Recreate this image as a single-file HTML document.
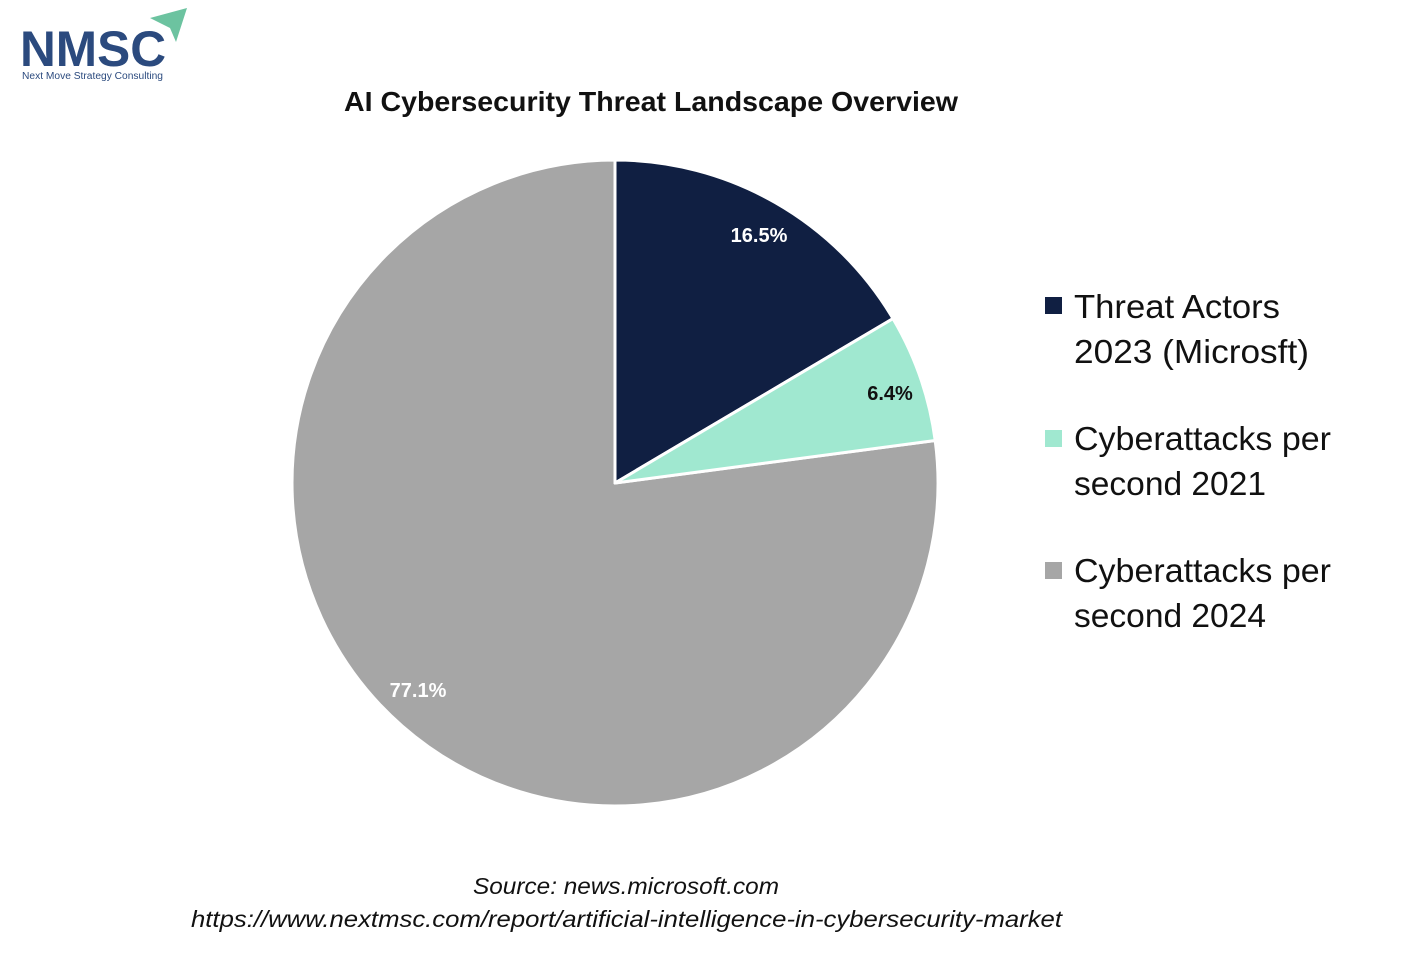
<!DOCTYPE html>
<html><head><meta charset="utf-8"><style>html,body{margin:0;padding:0;background:#fff;}svg{display:block}</style></head>
<body>
<svg width="1427" height="974" viewBox="0 0 1427 974" xmlns="http://www.w3.org/2000/svg" font-family="'Liberation Sans', sans-serif">
<rect width="1427" height="974" fill="#fff"/>
<!-- logo -->
<text x="20" y="66" font-size="50" font-weight="bold" fill="#2b4a7e" textLength="146" lengthAdjust="spacingAndGlyphs">NMSC</text>
<polygon points="150,18 187,8 176,42 170,28" fill="#6cc3a0"/>
<text x="22" y="79" font-size="10" fill="#2b4a7e" textLength="141" lengthAdjust="spacingAndGlyphs">Next Move Strategy Consulting</text>
<!-- title -->
<text x="651" y="111" font-size="28" font-weight="bold" fill="#111" text-anchor="middle" textLength="614" lengthAdjust="spacingAndGlyphs">AI Cybersecurity Threat Landscape Overview</text>
<!-- pie -->
<g stroke="#fff" stroke-width="3" stroke-linejoin="round">
<path d="M615,483 L935.2,440.5 A323,323 0 1,1 615,160 Z" fill="#a6a6a6"/>
<path d="M615,483 L615,160 A323,323 0 0,1 893,318.6 Z" fill="#101f42"/>
<path d="M615,483 L893,318.6 A323,323 0 0,1 935.2,440.5 Z" fill="#a0e8d0"/>
</g>
<text x="759" y="242" font-size="20" font-weight="bold" fill="#fff" text-anchor="middle">16.5%</text>
<text x="890" y="400" font-size="20" font-weight="bold" fill="#111" text-anchor="middle">6.4%</text>
<text x="418" y="697" font-size="20" font-weight="bold" fill="#fff" text-anchor="middle">77.1%</text>
<!-- legend -->
<rect x="1045" y="297" width="17" height="17" fill="#101f42"/>
<rect x="1045" y="430" width="17" height="17" fill="#a0e8d0"/>
<rect x="1045" y="562" width="17" height="17" fill="#a6a6a6"/>
<g font-size="33" fill="#111">
<text x="1074" y="318" textLength="206" lengthAdjust="spacingAndGlyphs">Threat Actors</text>
<text x="1074" y="363" textLength="235" lengthAdjust="spacingAndGlyphs">2023 (Microsft)</text>
<text x="1074" y="450" textLength="257" lengthAdjust="spacingAndGlyphs">Cyberattacks per</text>
<text x="1074" y="495" textLength="192" lengthAdjust="spacingAndGlyphs">second 2021</text>
<text x="1074" y="582" textLength="257" lengthAdjust="spacingAndGlyphs">Cyberattacks per</text>
<text x="1074" y="627" textLength="192" lengthAdjust="spacingAndGlyphs">second 2024</text>
</g>
<!-- source -->
<g font-size="23" font-style="italic" fill="#111">
<text x="473" y="894" textLength="306" lengthAdjust="spacingAndGlyphs">Source: news.microsoft.com</text>
<text x="191" y="927" textLength="871" lengthAdjust="spacingAndGlyphs">https://www.nextmsc.com/report/artificial-intelligence-in-cybersecurity-market</text>
</g>
</svg>
</body></html>
